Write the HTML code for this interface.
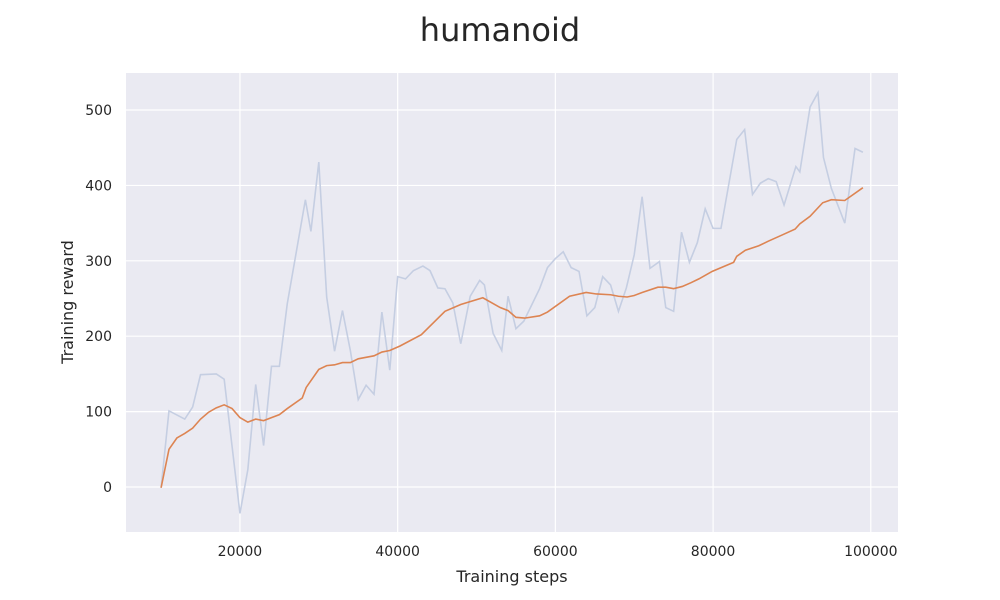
<!DOCTYPE html>
<html><head><meta charset="utf-8"><style>
body{margin:0;background:#fff;}
svg{display:block;font-family:"DejaVu Sans","Liberation Sans",sans-serif;}
</style></head><body>
<svg id="chart" width="1000" height="600">
<text x="500" y="41" text-anchor="middle" font-size="32" fill="#262626">humanoid</text>
<rect x="126" y="73" width="772" height="459" fill="#eaeaf2"/>
<g id="grid"></g><g id="ticks"></g><g id="series"></g>
<text x="512" y="582" text-anchor="middle" font-size="16" fill="#262626">Training steps</text>
<text transform="translate(73,302) rotate(-90)" text-anchor="middle" font-size="16" fill="#262626">Training reward</text>
</svg>
<script>
const rawSteps=[10000,11000,13000,14000,15000,17000,18000,20000,21000,22000,23000,24000,25000,26000,28300,29000,30000,31000,32000,33000,34000,35000,36000,37000,38000,39000,40000,41000,42000,43200,44100,45100,46000,47000,48000,49200,50400,51000,52100,53200,54000,55000,56000,58000,59000,60000,61000,62000,63000,64000,65000,66000,67000,68000,69000,70000,71000,72000,73200,74000,75000,76000,77000,78000,79000,80000,81000,83000,84000,85000,86000,87000,88000,89000,90500,91000,92300,93300,94000,95000,96700,98000,99000];
const rawValues=[-1,101,90,106,149,150,143,-35,23,136,55,160,160,243,381,339,431,252,180,234,181,116,135,123,232,155,279,276,287,293,287,264,263,244,190,253,274,268,204,181,253,210,220,263,291,303,312,291,286,227,238,279,268,233,264,308,385,290,299,238,233,338,298,324,369,343,343,461,474,388,403,409,405,374,425,418,504,523,437,396,350,449,444];
const smoothSteps=[10000,11000,12000,13000,14000,15000,16000,17000,18000,19000,20000,21000,22000,23000,24000,25000,26000,27900,28400,30000,31000,32000,33000,34000,35000,37000,38000,39000,40300,43000,46000,48000,50800,53000,54000,55000,56100,58000,59000,61800,63900,65200,67000,68000,69100,70000,71000,73000,74000,75000,76100,77200,78200,79900,82600,83000,84100,85800,87000,88700,90400,91000,92300,93900,95000,96700,99000];
const smoothValues=[-1,50,65,71,78,90,99,105,109,104,92,86,90,88,92,96,104,118,132,156,161,162,165,165,170,174,179,181,187,202,233,242,251,238,234,225,224,227,232,253,258,256,255,253,252,254,258,265,265,263,266,271,276,286,298,306,314,320,326,334,342,349,359,377,381,380,397];
const xTicks=[20000,40000,60000,80000,100000];
const yTicks=[0,100,200,300,400,500];
const X0=126,X1=898,Y0=532,Y1=73,xMin=5550,xMax=103450,yMin=-59.7,yMax=549.1;
const xs=v=>X0+(v-xMin)/(xMax-xMin)*(X1-X0);
const ys=v=>Y0-(v-yMin)/(yMax-yMin)*(Y0-Y1);
const NS="http://www.w3.org/2000/svg";
function mk(t,a,p){const e=document.createElementNS(NS,t);for(const k in a)e.setAttribute(k,a[k]);p.appendChild(e);return e;}
const grid=document.getElementById('grid'),ticks=document.getElementById('ticks'),series=document.getElementById('series');
xTicks.forEach(t=>{const x=xs(t);
const l=mk('line',{x1:x,x2:x,y1:Y1,y2:Y0,stroke:'#fff','stroke-width':1.2},grid);


const tx=mk('text',{x:x,y:Y0+24,'text-anchor':'middle','font-size':14,fill:'#262626'},ticks);tx.textContent=t;

});
yTicks.forEach(t=>{const y=ys(t);
const l=mk('line',{x1:X0,x2:X1,y1:y,y2:y,stroke:'#fff','stroke-width':1.2},grid);


const tx=mk('text',{x:X0-14,y:y+5,'text-anchor':'end','font-size':14,fill:'#262626'},ticks);tx.textContent=t;

});
const p1=mk('polyline',{points:rawSteps.map((s,i)=>xs(s)+','+ys(rawValues[i])).join(' '),fill:'none',stroke:'#c5cee2','stroke-width':1.6},series);


const p2=mk('polyline',{points:smoothSteps.map((s,i)=>xs(s)+','+ys(smoothValues[i])).join(' '),fill:'none',stroke:'#dd8452','stroke-width':1.6},series);


</script>
</body></html>
